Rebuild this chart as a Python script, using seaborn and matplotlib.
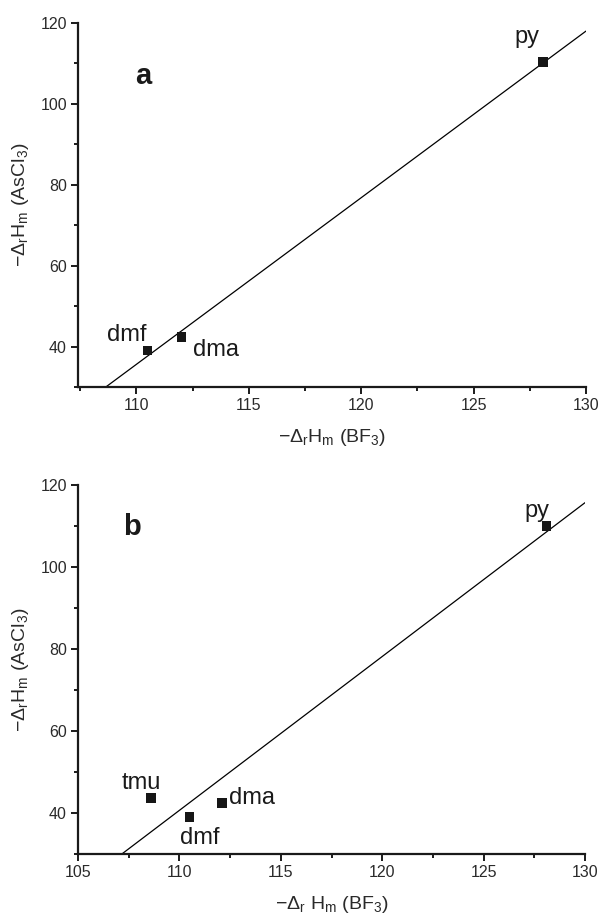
import numpy as np
import pandas as pd
import matplotlib
matplotlib.use("Agg")
import matplotlib.pyplot as plt
from matplotlib.ticker import MultipleLocator
import seaborn as sns

# ---------------- data ----------------
labels_a = ["dmf", "dma", "py"]
bf3_a = [110.5, 112.0, 128.1]
ascl3_a = [39.0, 42.4, 110.3]

labels_b = ["tmu", "dmf", "dma", "py"]
bf3_b = [108.6, 110.5, 112.1, 128.1]
ascl3_b = [43.6, 39.0, 42.4, 110.0]

xticks_a = [110, 115, 120, 125, 130]
xticks_b = [105, 110, 115, 120, 125, 130]
yticks = [40, 60, 80, 100, 120]

# ---------------- style ----------------
sns.set_theme(style="ticks")
plt.rcParams["font.family"] = ["Liberation Sans", "DejaVu Sans"]
plt.rcParams["mathtext.fontset"] = "custom"
plt.rcParams["mathtext.rm"] = "Liberation Sans"
plt.rcParams["mathtext.it"] = "Liberation Sans:italic"
plt.rcParams["mathtext.bf"] = "Liberation Sans:bold"

fig = plt.figure(figsize=(6.02, 9.18), dpi=100)
ax_a = fig.add_axes([78 / 602, 1 - 387 / 918, 508 / 602, 364 / 918])
ax_b = fig.add_axes([78 / 602, 1 - 854 / 918, 507 / 602, 369 / 918])

df_a = pd.DataFrame({"x": bf3_a, "y": ascl3_a, "label": labels_a})
df_b = pd.DataFrame({"x": bf3_b, "y": ascl3_b, "label": labels_b})

ylab = r"$-\mathit{\Delta}_\mathrm{r}\mathrm{H}_\mathrm{m}$ (AsCl$_3$)"
xlab_a = r"$-\mathit{\Delta}_\mathrm{r}\mathrm{H}_\mathrm{m}$ (BF$_3$)"
xlab_b = r"$-\mathit{\Delta}_\mathrm{r}$ $\mathrm{H}_\mathrm{m}$ (BF$_3$)"

text_pos_a = {"dmf": (108.7, 41.3), "dma": (112.5, 37.6), "py": (126.8, 115.0)}
text_pos_b = {"tmu": (107.15, 45.9), "dmf": (110.05, 32.5),
              "dma": (112.45, 42.2), "py": (127.0, 112.3)}


def draw(ax, df, xlim, xticks, text_pos, panel, panel_pos, xlab):
    ax.set_xlim(*xlim)
    ax.set_ylim(30, 120)
    sns.regplot(data=df, x="x", y="y", ax=ax, scatter=False, ci=None,
                truncate=False, color="black", line_kws={"lw": 0.9})
    sns.scatterplot(data=df, x="x", y="y", ax=ax, marker="s", s=48,
                    color="#161616", edgecolor="none", zorder=5)
    ax.set_xlim(*xlim)
    ax.set_ylim(30, 120)
    for lab in df["label"]:
        tx, ty = text_pos[lab]
        ax.text(tx, ty, lab, fontsize=17, ha="left", va="baseline",
                color="#1a1a1a")
    ax.text(panel_pos[0], panel_pos[1], panel, fontsize=21,
            fontweight="bold", ha="left", va="baseline", color="#1a1a1a")

    ax.set_xticks(xticks)
    ax.set_yticks(yticks)
    ax.xaxis.set_minor_locator(MultipleLocator(2.5))
    ax.yaxis.set_minor_locator(MultipleLocator(10))
    ax.tick_params(which="major", direction="out", length=5, width=1.4,
                   labelsize=11.5, labelcolor="#2a2a2a", color="#1a1a1a",
                   pad=3)
    ax.tick_params(which="minor", direction="out", length=3, width=1.4,
                   color="#1a1a1a")
    for side in ["top", "right"]:
        ax.spines[side].set_visible(False)
    for side in ["left", "bottom"]:
        ax.spines[side].set_linewidth(1.6)
        ax.spines[side].set_color("#1a1a1a")
    ax.set_xlabel(xlab, fontsize=14, color="#2a2a2a", labelpad=10)
    ax.set_ylabel(ylab, fontsize=14, color="#2a2a2a", labelpad=7)


draw(ax_a, df_a, (107.4, 130), xticks_a, text_pos_a, "a", (109.95, 104.8), xlab_a)
draw(ax_b, df_b, (105, 130), xticks_b, text_pos_b, "b", (107.2, 107.8), xlab_b)

fig.savefig("out.png", dpi=100)
